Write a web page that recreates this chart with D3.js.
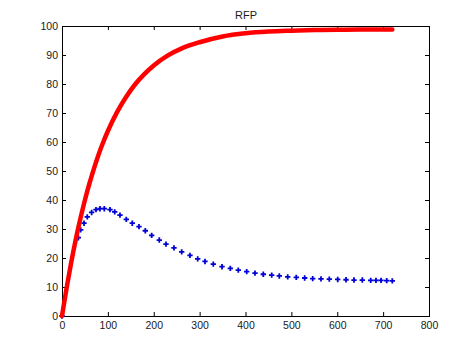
<!DOCTYPE html>
<html>
<head>
<meta charset="utf-8">
<script src="https://cdn.jsdelivr.net/npm/d3@7"></script>
<style>
  html, body { margin: 0; padding: 0; background: #fff; }
  svg { display: block; }
  text { font-family: "Liberation Sans", Arial, Helvetica, sans-serif; }
</style>
</head>
<body>
<svg id="chart" width="474" height="355"></svg>
<script>
// ---- data ----
const title = "RFP";
const xTicks = [0, 100, 200, 300, 400, 500, 600, 700, 800];
const yTicks = [0, 10, 20, 30, 40, 50, 60, 70, 80, 90, 100];

// red series (dense markers, drawn as a thick trace)
const redT = [0, 10, 20, 30, 40, 50, 60, 70, 80, 90, 100, 120, 140, 160, 180, 200, 230, 260, 300, 350, 400, 450, 500, 550, 600, 650, 720];
const redV = [0, 9.6, 18.4, 26.4, 33.5, 40, 45.8, 51, 55.8, 60, 63.8, 70.3, 75.6, 80, 83.5, 86.4, 89.8, 92.2, 94.4, 96.4, 97.5, 98.1, 98.4, 98.6, 98.7, 98.8, 98.8];

// blue series (sparse markers)
const blueT = [0, 35.6, 40.7, 48, 55.1, 64.6, 74.1, 82.8, 92.2, 104.6, 114.9, 126.4, 140.2, 153.2, 167.8, 181.6, 195.5, 212.1, 226.7, 244.1,
  260.9, 279, 295.8, 311.7, 329.8, 348.8, 366.9, 384.3, 402.6, 420.7, 438.8, 457.1, 473.7, 492, 510.7, 529, 546.5, 564.6, 582.7, 601, 619.1, 636.5, 654.6, 672.9, 684.4, 695.4, 707.8, 720];
const blueV = [0, 27, 29.7, 32, 34.2, 35.7, 36.7, 37, 37, 36.7, 35.9, 34.8, 33.3, 32, 30.8, 29.4, 27.8, 26.2, 24.8, 23.5,
  22.1, 20.9, 19.7, 18.8, 17.9, 17.0, 16.4, 15.8, 15.3, 14.8, 14.4, 14.1, 13.8, 13.5, 13.3, 13.1, 12.9, 12.8, 12.7, 12.6, 12.5, 12.4, 12.4, 12.3, 12.3, 12.3, 12.2, 12.1];

// ---- layout ----
const svg = d3.select("#chart");
const L = 62, R = 429, T = 26, B = 316;
const x = d3.scaleLinear().domain([0, 800]).range([L, R]);
const y = d3.scaleLinear().domain([0, 100]).range([B, T]);
const txtColor = "#1a1a1a";

// axes box
svg.append("rect")
  .attr("x", L + 0.5).attr("y", T + 0.5)
  .attr("width", R - L).attr("height", B - T)
  .attr("fill", "none").attr("stroke", "#000").attr("stroke-width", 1);

function styleAxis(g) {
  g.select(".domain").remove();
  g.selectAll(".tick line").attr("stroke", "#000");
  g.selectAll(".tick text").attr("fill", txtColor).style("font-size", "10.5px");
}

svg.append("g").attr("transform", `translate(0,${B})`)
  .call(d3.axisBottom(x).tickValues(xTicks).tickFormat(d3.format("d")).tickSize(-4).tickPadding(6))
  .call(styleAxis);
svg.append("g").attr("transform", `translate(0,${T})`)
  .call(d3.axisTop(x).tickValues(xTicks).tickFormat("").tickSize(-4))
  .call(styleAxis);
svg.append("g").attr("transform", `translate(${L},0)`)
  .call(d3.axisLeft(y).tickValues(yTicks).tickFormat(d3.format("d")).tickSize(-4).tickPadding(4))
  .call(styleAxis);
svg.append("g").attr("transform", `translate(${R},0)`)
  .call(d3.axisRight(y).tickValues(yTicks).tickFormat("").tickSize(-4))
  .call(styleAxis);

// title
svg.append("text")
  .attr("x", (L + R) / 2 + 0.5).attr("y", 19)
  .attr("text-anchor", "middle")
  .attr("fill", txtColor)
  .style("font-size", "11px")
  .text(title);

// blue markers
const blue = blueT.map((t, i) => ({ t, v: blueV[i] }));
svg.append("g").selectAll("path")
  .data(blue).join("path")
  .attr("transform", d => `translate(${x(d.t)},${y(d.v)})`)
  .attr("d", d3.symbol(d3.symbolCross, 16))
  .attr("fill", "#0000d8");

// red trace
const red = redT.map((t, i) => ({ t, v: redV[i] }));
svg.append("path")
  .datum(red)
  .attr("d", d3.line().x(d => x(d.t)).y(d => y(d.v)).curve(d3.curveMonotoneX))
  .attr("fill", "none")
  .attr("stroke", "#ff0000")
  .attr("stroke-width", 4.5)
  .attr("stroke-linejoin", "round")
  .attr("stroke-linecap", "round");
</script>
</body>
</html>
